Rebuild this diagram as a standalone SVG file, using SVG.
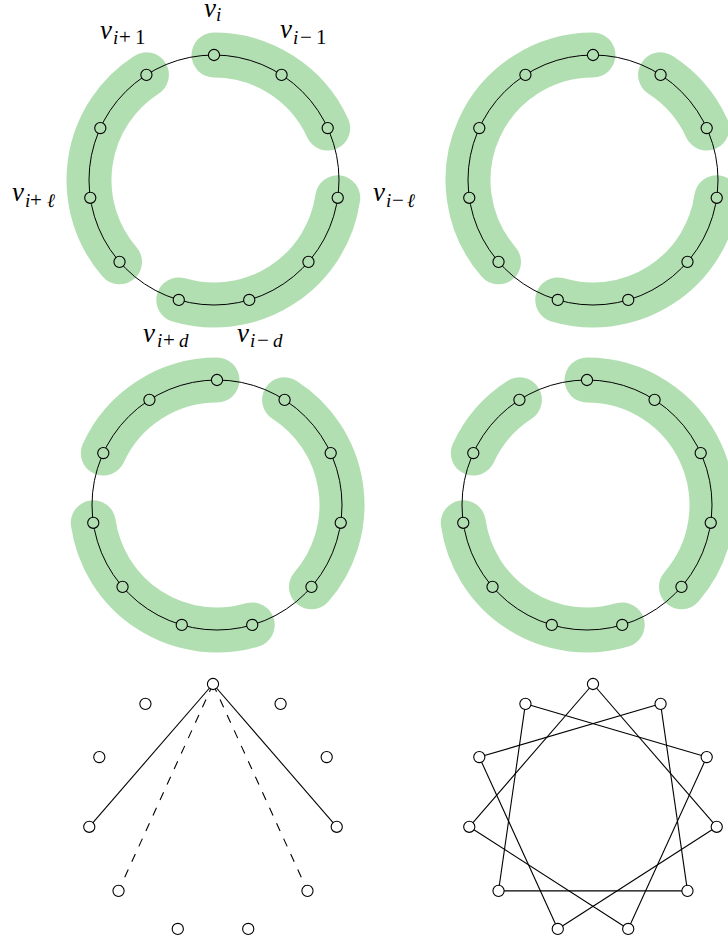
<svg xmlns="http://www.w3.org/2000/svg" width="728" height="945" viewBox="0 0 728 945">
<style>
.band{fill:none;stroke:#b2dfb2;stroke-width:45;stroke-linecap:round}
.ring{fill:none;stroke:#000;stroke-width:1}
.ng{fill:#b2dfb2;stroke:#000;stroke-width:1.1}
.nw{fill:#fff;stroke:#000;stroke-width:1.1}
.e{stroke:#000;stroke-width:1.1;fill:none}
.d{stroke:#000;stroke-width:1.1;fill:none;stroke-dasharray:8.5 8.5}
.lv{font-family:'Liberation Serif','DejaVu Serif',serif;font-style:italic;font-size:27px;fill:#000}
.ls{font-family:'Liberation Serif','DejaVu Serif',serif;font-style:italic;font-size:19px;fill:#000}
.up{font-style:normal;font-size:21px}
</style>

<!-- Panel top-left -->
<g id="panel-tl" transform="translate(214,180)">
  <g id="tl-bands">
    <path class="band" d="M0,-125 A125,125 0 0 1 113.70,-51.93"/>
    <path class="band" d="M123.73,17.79 A125,125 0 0 1 -35.22,119.94"/>
    <path class="band" d="M-94.47,81.86 A125,125 0 0 1 -67.58,-105.16"/>
  </g>
  <circle class="ring" r="125"/>
  <g id="tl-v0"><circle class="ng" cx="0" cy="-125" r="5.6"/>
    <text class="lv" x="-10" y="-163">v</text><text class="ls" x="2" y="-159">i</text></g>
  <g id="tl-v1"><circle class="ng" cx="67.58" cy="-105.16" r="5.6"/>
    <text class="lv" x="66" y="-142">v</text><text class="ls" y="-136"><tspan x="79">i</tspan><tspan class="up" x="86">−</tspan><tspan class="up" x="102">1</tspan></text></g>
  <g id="tl-v2"><circle class="ng" cx="113.70" cy="-51.93" r="5.6"/></g>
  <g id="tl-v3"><circle class="ng" cx="123.73" cy="17.79" r="5.6"/>
    <text class="lv" x="159" y="21">v</text><text class="ls" y="27"><tspan x="172">i</tspan><tspan class="up" x="178">−</tspan><tspan x="193">ℓ</tspan></text></g>
  <g id="tl-v4"><circle class="ng" cx="94.47" cy="81.86" r="5.6"/></g>
  <g id="tl-v5"><circle class="ng" cx="35.22" cy="119.94" r="5.6"/>
    <text class="lv" x="23" y="162">v</text><text class="ls" y="167"><tspan x="36">i</tspan><tspan class="up" x="43">−</tspan><tspan x="59">d</tspan></text></g>
  <g id="tl-v6"><circle class="ng" cx="-35.22" cy="119.94" r="5.6"/>
    <text class="lv" x="-71" y="162">v</text><text class="ls" y="167"><tspan x="-57">i</tspan><tspan class="up" x="-51">+</tspan><tspan x="-35">d</tspan></text></g>
  <g id="tl-v7"><circle class="ng" cx="-94.47" cy="81.86" r="5.6"/></g>
  <g id="tl-v8"><circle class="ng" cx="-123.73" cy="17.79" r="5.6"/>
    <text class="lv" x="-202" y="21">v</text><text class="ls" y="27"><tspan x="-189">i</tspan><tspan class="up" x="-184">+</tspan><tspan x="-167">ℓ</tspan></text></g>
  <g id="tl-v9"><circle class="ng" cx="-113.70" cy="-51.93" r="5.6"/></g>
  <g id="tl-v10"><circle class="ng" cx="-67.58" cy="-105.16" r="5.6"/>
    <text class="lv" x="-114" y="-141">v</text><text class="ls" y="-136"><tspan x="-101">i</tspan><tspan class="up" x="-95">+</tspan><tspan class="up" x="-79">1</tspan></text></g>
</g>

<!-- Panel top-right -->
<g id="panel-tr" transform="translate(593,180)">
  <g id="tr-bands">
    <path class="band" d="M-94.47,81.86 A125,125 0 0 1 0,-125"/>
    <path class="band" d="M67.58,-105.16 A125,125 0 0 1 113.70,-51.93"/>
    <path class="band" d="M123.73,17.79 A125,125 0 0 1 -35.22,119.94"/>
  </g>
  <circle class="ring" r="125"/>
  <g id="tr-v0"><circle class="ng" cx="0" cy="-125" r="5.6"/></g>
  <g id="tr-v1"><circle class="ng" cx="67.58" cy="-105.16" r="5.6"/></g>
  <g id="tr-v2"><circle class="ng" cx="113.70" cy="-51.93" r="5.6"/></g>
  <g id="tr-v3"><circle class="ng" cx="123.73" cy="17.79" r="5.6"/></g>
  <g id="tr-v4"><circle class="ng" cx="94.47" cy="81.86" r="5.6"/></g>
  <g id="tr-v5"><circle class="ng" cx="35.22" cy="119.94" r="5.6"/></g>
  <g id="tr-v6"><circle class="ng" cx="-35.22" cy="119.94" r="5.6"/></g>
  <g id="tr-v7"><circle class="ng" cx="-94.47" cy="81.86" r="5.6"/></g>
  <g id="tr-v8"><circle class="ng" cx="-123.73" cy="17.79" r="5.6"/></g>
  <g id="tr-v9"><circle class="ng" cx="-113.70" cy="-51.93" r="5.6"/></g>
  <g id="tr-v10"><circle class="ng" cx="-67.58" cy="-105.16" r="5.6"/></g>
</g>

<!-- Panel middle-left -->
<g id="panel-ml" transform="translate(217,505)">
  <g id="ml-bands">
    <path class="band" d="M-113.70,-51.93 A125,125 0 0 1 0,-125"/>
    <path class="band" d="M67.58,-105.16 A125,125 0 0 1 94.47,81.86"/>
    <path class="band" d="M35.22,119.94 A125,125 0 0 1 -123.73,17.79"/>
  </g>
  <circle class="ring" r="125"/>
  <g id="ml-v0"><circle class="ng" cx="0" cy="-125" r="5.6"/></g>
  <g id="ml-v1"><circle class="ng" cx="67.58" cy="-105.16" r="5.6"/></g>
  <g id="ml-v2"><circle class="ng" cx="113.70" cy="-51.93" r="5.6"/></g>
  <g id="ml-v3"><circle class="ng" cx="123.73" cy="17.79" r="5.6"/></g>
  <g id="ml-v4"><circle class="ng" cx="94.47" cy="81.86" r="5.6"/></g>
  <g id="ml-v5"><circle class="ng" cx="35.22" cy="119.94" r="5.6"/></g>
  <g id="ml-v6"><circle class="ng" cx="-35.22" cy="119.94" r="5.6"/></g>
  <g id="ml-v7"><circle class="ng" cx="-94.47" cy="81.86" r="5.6"/></g>
  <g id="ml-v8"><circle class="ng" cx="-123.73" cy="17.79" r="5.6"/></g>
  <g id="ml-v9"><circle class="ng" cx="-113.70" cy="-51.93" r="5.6"/></g>
  <g id="ml-v10"><circle class="ng" cx="-67.58" cy="-105.16" r="5.6"/></g>
</g>

<!-- Panel middle-right -->
<g id="panel-mr" transform="translate(587,505)">
  <g id="mr-bands">
    <path class="band" d="M-113.70,-51.93 A125,125 0 0 1 -67.58,-105.16"/>
    <path class="band" d="M0,-125 A125,125 0 0 1 94.47,81.86"/>
    <path class="band" d="M35.22,119.94 A125,125 0 0 1 -123.73,17.79"/>
  </g>
  <circle class="ring" r="125"/>
  <g id="mr-v0"><circle class="ng" cx="0" cy="-125" r="5.6"/></g>
  <g id="mr-v1"><circle class="ng" cx="67.58" cy="-105.16" r="5.6"/></g>
  <g id="mr-v2"><circle class="ng" cx="113.70" cy="-51.93" r="5.6"/></g>
  <g id="mr-v3"><circle class="ng" cx="123.73" cy="17.79" r="5.6"/></g>
  <g id="mr-v4"><circle class="ng" cx="94.47" cy="81.86" r="5.6"/></g>
  <g id="mr-v5"><circle class="ng" cx="35.22" cy="119.94" r="5.6"/></g>
  <g id="mr-v6"><circle class="ng" cx="-35.22" cy="119.94" r="5.6"/></g>
  <g id="mr-v7"><circle class="ng" cx="-94.47" cy="81.86" r="5.6"/></g>
  <g id="mr-v8"><circle class="ng" cx="-123.73" cy="17.79" r="5.6"/></g>
  <g id="mr-v9"><circle class="ng" cx="-113.70" cy="-51.93" r="5.6"/></g>
  <g id="mr-v10"><circle class="ng" cx="-67.58" cy="-105.16" r="5.6"/></g>
</g>

<!-- Panel bottom-left -->
<g id="panel-bl" transform="translate(213,809)">
  <g id="bl-edges">
    <line class="e" x1="0" y1="-125" x2="123.73" y2="17.79"/>
    <line class="e" x1="0" y1="-125" x2="-123.73" y2="17.79"/>
    <line class="d" x1="0" y1="-125" x2="94.47" y2="81.86"/>
    <line class="d" x1="0" y1="-125" x2="-94.47" y2="81.86"/>
  </g>
  <g id="bl-v0"><circle class="nw" cx="0" cy="-125" r="5.6"/></g>
  <g id="bl-v1"><circle class="nw" cx="67.58" cy="-105.16" r="5.6"/></g>
  <g id="bl-v2"><circle class="nw" cx="113.70" cy="-51.93" r="5.6"/></g>
  <g id="bl-v3"><circle class="nw" cx="123.73" cy="17.79" r="5.6"/></g>
  <g id="bl-v4"><circle class="nw" cx="94.47" cy="81.86" r="5.6"/></g>
  <g id="bl-v5"><circle class="nw" cx="35.22" cy="119.94" r="5.6"/></g>
  <g id="bl-v6"><circle class="nw" cx="-35.22" cy="119.94" r="5.6"/></g>
  <g id="bl-v7"><circle class="nw" cx="-94.47" cy="81.86" r="5.6"/></g>
  <g id="bl-v8"><circle class="nw" cx="-123.73" cy="17.79" r="5.6"/></g>
  <g id="bl-v9"><circle class="nw" cx="-113.70" cy="-51.93" r="5.6"/></g>
  <g id="bl-v10"><circle class="nw" cx="-67.58" cy="-105.16" r="5.6"/></g>
</g>

<!-- Panel bottom-right -->
<g id="panel-br" transform="translate(593,809)">
  <g id="br-edges">
    <line class="e" x1="0" y1="-125" x2="123.73" y2="17.79"/>
    <line class="e" x1="67.58" y1="-105.16" x2="94.47" y2="81.86"/>
    <line class="e" x1="113.70" y1="-51.93" x2="35.22" y2="119.94"/>
    <line class="e" x1="123.73" y1="17.79" x2="-35.22" y2="119.94"/>
    <line class="e" x1="94.47" y1="81.86" x2="-94.47" y2="81.86"/>
    <line class="e" x1="35.22" y1="119.94" x2="-123.73" y2="17.79"/>
    <line class="e" x1="-35.22" y1="119.94" x2="-113.70" y2="-51.93"/>
    <line class="e" x1="-94.47" y1="81.86" x2="-67.58" y2="-105.16"/>
    <line class="e" x1="-123.73" y1="17.79" x2="0" y2="-125"/>
    <line class="e" x1="-113.70" y1="-51.93" x2="67.58" y2="-105.16"/>
    <line class="e" x1="-67.58" y1="-105.16" x2="113.70" y2="-51.93"/>
  </g>
  <g id="br-v0"><circle class="nw" cx="0" cy="-125" r="5.6"/></g>
  <g id="br-v1"><circle class="nw" cx="67.58" cy="-105.16" r="5.6"/></g>
  <g id="br-v2"><circle class="nw" cx="113.70" cy="-51.93" r="5.6"/></g>
  <g id="br-v3"><circle class="nw" cx="123.73" cy="17.79" r="5.6"/></g>
  <g id="br-v4"><circle class="nw" cx="94.47" cy="81.86" r="5.6"/></g>
  <g id="br-v5"><circle class="nw" cx="35.22" cy="119.94" r="5.6"/></g>
  <g id="br-v6"><circle class="nw" cx="-35.22" cy="119.94" r="5.6"/></g>
  <g id="br-v7"><circle class="nw" cx="-94.47" cy="81.86" r="5.6"/></g>
  <g id="br-v8"><circle class="nw" cx="-123.73" cy="17.79" r="5.6"/></g>
  <g id="br-v9"><circle class="nw" cx="-113.70" cy="-51.93" r="5.6"/></g>
  <g id="br-v10"><circle class="nw" cx="-67.58" cy="-105.16" r="5.6"/></g>
</g>
</svg>
